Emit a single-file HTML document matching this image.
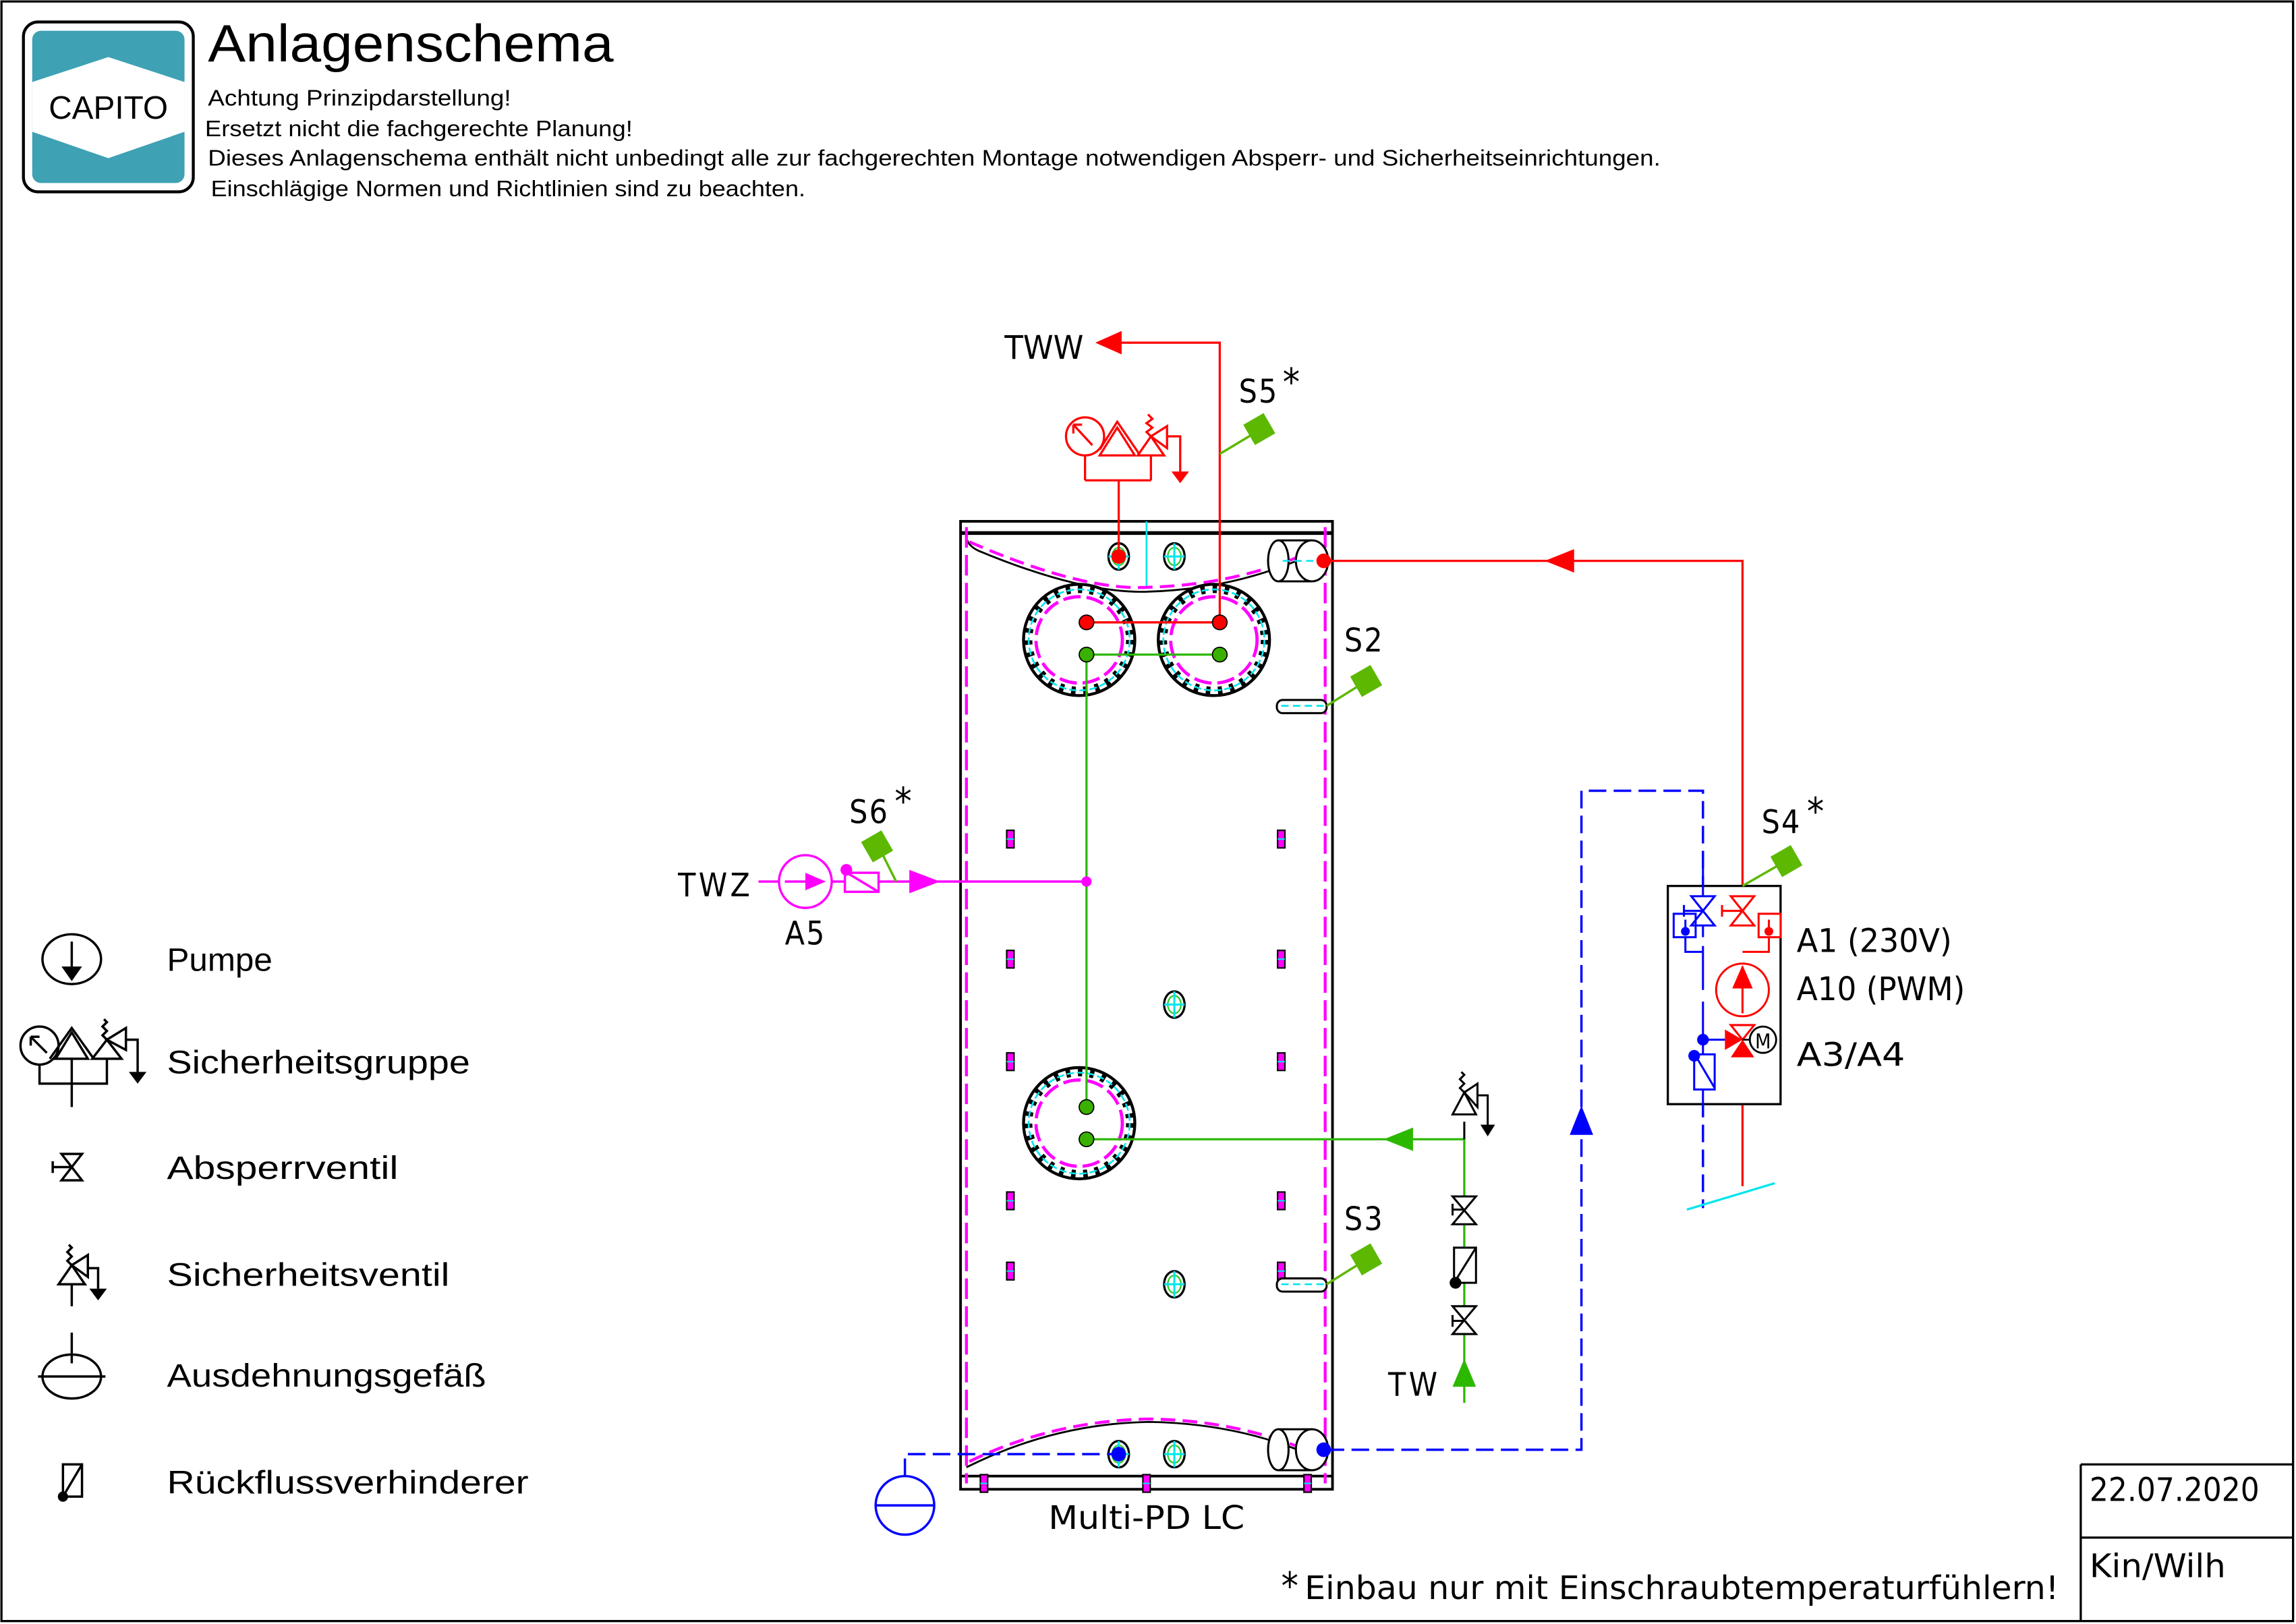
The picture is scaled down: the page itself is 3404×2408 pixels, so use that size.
<!DOCTYPE html>
<html><head><meta charset="utf-8"><style>
html,body{margin:0;padding:0;background:#fff;}
svg{display:block;}
text{font-family:"Liberation Sans",sans-serif;}
.d{font-family:"DejaVu Sans Condensed","Liberation Sans",sans-serif;font-weight:normal;}
</style></head><body>
<svg width="3404" height="2408" viewBox="0 0 1568 1109" preserveAspectRatio="none" xmlns="http://www.w3.org/2000/svg">
<defs>
  <g id="flange">
    <circle r="38" fill="#fff" stroke="#000" stroke-width="2"/>
    <circle r="35" fill="none" stroke="#000" stroke-width="6" stroke-dasharray="3 5.2"/>
    <circle r="34.5" fill="none" stroke="#00e5ee" stroke-width="1.2" stroke-dasharray="5 2"/>
    <circle r="29.5" fill="none" stroke="#ff00ff" stroke-width="2.2" stroke-dasharray="12 4"/>
  </g>
  <g id="sens"><rect x="-8" y="-8" width="16" height="16" fill="#5cb800" transform="rotate(-30)"/></g>
  <g id="nozzle"><ellipse rx="7" ry="9" fill="#fff" stroke="#000" stroke-width="1.5"/><ellipse rx="4.5" ry="6" fill="none" stroke="#2c2" stroke-width="1"/><path d="M-7,0 H7 M0,-9 V9" stroke="#00e5ee" stroke-width="1.4"/></g>
  <g id="mark"><rect x="-2.5" y="-6" width="5" height="12" fill="#ff00ff" stroke="#000" stroke-width="1"/><path d="M-2.5,0 H2.5" stroke="#00e5ee" stroke-width="1"/></g>
</defs>
<rect x="1" y="1" width="1565" height="1106" fill="#fff" stroke="#000" stroke-width="1.5"/>

<!-- logo -->
<rect x="16" y="15" width="116" height="116" rx="10" fill="#fff" stroke="#000" stroke-width="2"/>
<rect x="22" y="21" width="104" height="104" rx="6" fill="#3ea1b4"/>
<polygon points="22,56 74,39 126,56 126,90 74,108 22,90" fill="#fff"/>
<text x="74" y="81" font-size="22" text-anchor="middle">CAPITO</text>

<text x="142" y="42" font-size="36" textLength="277" lengthAdjust="spacingAndGlyphs">Anlagenschema</text>
<text x="142" y="72" font-size="15.5" textLength="207" lengthAdjust="spacingAndGlyphs">Achtung Prinzipdarstellung!</text>
<text x="140" y="93" font-size="15.5" textLength="292" lengthAdjust="spacingAndGlyphs">Ersetzt nicht die fachgerechte Planung!</text>
<text x="142" y="113" font-size="15.5" textLength="992" lengthAdjust="spacingAndGlyphs">Dieses Anlagenschema enthält nicht unbedingt alle zur fachgerechten Montage notwendigen Absperr- und Sicherheitseinrichtungen.</text>
<text x="144" y="134" font-size="15.5" textLength="406" lengthAdjust="spacingAndGlyphs">Einschlägige Normen und Richtlinien sind zu beachten.</text>

<!-- tank -->
<rect x="656" y="356" width="254" height="661" fill="#fff" stroke="#000" stroke-width="1.8"/>
<line x1="656" y1="364" x2="910" y2="364" stroke="#000" stroke-width="2.5"/>
<line x1="656" y1="1008" x2="910" y2="1008" stroke="#000" stroke-width="1.8"/>
<path d="M660,366 Q660,372 668,376 Q740,406 785,404 Q850,402 905,374" fill="none" stroke="#000" stroke-width="1.3"/>
<path d="M662,370 Q740,404 785,401 Q850,399 903,373" fill="none" stroke="#ff00ff" stroke-width="2" stroke-dasharray="10 5"/>
<path d="M660,1002 Q720,972 785,971 Q850,972 905,998" fill="none" stroke="#000" stroke-width="1.3"/>
<path d="M662,998 Q720,970 785,969 Q850,970 903,995" fill="none" stroke="#ff00ff" stroke-width="2" stroke-dasharray="10 5"/>
<line x1="660" y1="360" x2="660" y2="1013" stroke="#ff00ff" stroke-width="2" stroke-dasharray="14 5"/>
<line x1="905" y1="360" x2="905" y2="1013" stroke="#ff00ff" stroke-width="2" stroke-dasharray="14 5"/>
<line x1="783" y1="356" x2="783" y2="400" stroke="#00e5ee" stroke-width="1.2"/>

<g>
<use href="#mark" x="690" y="573"/><use href="#mark" x="875" y="573"/>
<use href="#mark" x="690" y="655"/><use href="#mark" x="875" y="655"/>
<use href="#mark" x="690" y="725"/><use href="#mark" x="875" y="725"/>
<use href="#mark" x="690" y="820"/><use href="#mark" x="875" y="820"/>
<use href="#mark" x="690" y="868"/><use href="#mark" x="875" y="868"/>
<use href="#mark" x="672" y="1013"/><use href="#mark" x="783" y="1013"/><use href="#mark" x="893" y="1013"/>
</g>

<use href="#nozzle" x="764" y="380"/><use href="#nozzle" x="802" y="380"/>
<use href="#nozzle" x="802" y="686"/><use href="#nozzle" x="802" y="877"/>
<use href="#nozzle" x="764" y="993"/><use href="#nozzle" x="802" y="993"/>
<circle cx="764" cy="380" r="5" fill="#f00"/><circle cx="764" cy="993" r="5" fill="#0000ff"/>

<g stroke="#000" stroke-width="1.4" fill="#fff">
<path d="M873,369 H896 M873,397 H896"/>
<ellipse cx="873" cy="383" rx="7" ry="14"/><ellipse cx="896" cy="383" rx="11" ry="14"/>
<path d="M873,976 H896 M873,1004 H896"/>
<ellipse cx="873" cy="990" rx="7" ry="14"/><ellipse cx="896" cy="990" rx="11" ry="14"/>
<rect x="872" y="478" width="34" height="9" rx="4"/>
<rect x="872" y="873" width="34" height="9" rx="4"/>
</g>
<path d="M875,482 H904 M875,877 H904 M876,383 H900" stroke="#00e5ee" stroke-width="1.2" stroke-dasharray="5 3"/>
<circle cx="904" cy="383" r="5" fill="#f00"/><circle cx="904" cy="990" r="5" fill="#0000ff"/>

<use href="#flange" x="737" y="437"/><use href="#flange" x="829" y="437"/><use href="#flange" x="737" y="767"/>

<g stroke="#f00" stroke-width="1.5" fill="none">
<path d="M742,425 H833 V234 H760"/>
<path d="M764,380 V328 M741,328 H786 M741,311 V328 M786,311 V328"/>
<path d="M906,383 H1190 V810"/>
<circle cx="741" cy="298" r="13"/>
<path d="M733,290 L746,304 M733,290 v6 M733,290 h6"/>
<path d="M763,292 L775,311 H751 Z"/>
<path d="M751,307 L763,288 L778,310"/>
<path d="M786,298 L777,311 H795 Z"/>
<path d="M786,298 L797,291 V306 Z M797,298 H806 V322"/>
<path d="M786,298 l-3,-3 l4,-3 l-4,-3 l4,-3 l-3,-3"/>
</g>
<polygon points="748,234 766,226 766,242" fill="#f00"/>
<polygon points="800,322 812,322 806,330" fill="#f00"/>
<polygon points="1055,383 1075,375 1075,391" fill="#f00"/>
<circle cx="742" cy="425" r="5" fill="#f00" stroke="#000" stroke-width="0.8"/>
<circle cx="833" cy="425" r="5" fill="#f00" stroke="#000" stroke-width="0.8"/>
<text x="686" y="245" font-size="22" class="d" textLength="54" lengthAdjust="spacingAndGlyphs">TWW</text>

<g stroke="#2db800" stroke-width="1.5" fill="none">
<path d="M742,447 H833 M742,447 V756"/>
<path d="M742,778 H1000 V958"/>
</g>
<circle cx="742" cy="447" r="5" fill="#3ab000" stroke="#000" stroke-width="0.8"/>
<circle cx="833" cy="447" r="5" fill="#3ab000" stroke="#000" stroke-width="0.8"/>
<circle cx="742" cy="756" r="5" fill="#3ab000" stroke="#000" stroke-width="0.8"/>
<circle cx="742" cy="778" r="5" fill="#3ab000" stroke="#000" stroke-width="0.8"/>
<polygon points="945,778 965,770 965,786" fill="#2db800"/>
<polygon points="1000,928 992,947 1008,947" fill="#2db800"/>
<g stroke="#000" stroke-width="1.4" fill="#fff">
<path d="M1000,766 V778"/>
<path d="M1000,746 L992,761 H1008 Z"/>
<path d="M1000,746 L1009,740 V756 Z M1009,748 H1016 V770" fill="none"/>
<path d="M1000,746 l-3,-3 l3,-3 l-3,-3 l3,-3 l-2,-2" fill="none"/>
<path d="M992,817 H1008 L992,836 H1008 Z M992,826 H1000 M992,822 V830"/>
<path d="M992,892 H1008 L992,911 H1008 Z M992,902 H1000 M992,898 V906"/>
<rect x="993" y="852" width="15" height="24"/>
<path d="M993,876 L1008,852"/>
</g>
<polygon points="1011,768 1021,768 1016,776" fill="#000"/>
<circle cx="994" cy="876" r="4" fill="#000"/>
<text x="948" y="953" font-size="22" class="d" letter-spacing="2">TW</text>

<g stroke="#ff00ff" stroke-width="1.6" fill="none">
<path d="M518,602 H742"/>
<circle cx="550" cy="602" r="18" fill="#fff"/>
<path d="M536,602 H552"/>
<rect x="577" y="596" width="23" height="13" fill="#fff"/>
<path d="M580,597 L600,609"/>
</g>
<polygon points="550,596 564,602 550,608" fill="#ff00ff"/>
<circle cx="578" cy="594" r="4" fill="#ff00ff"/>
<polygon points="621,594 642,602 621,610" fill="#ff00ff"/>
<circle cx="742" cy="602" r="3.5" fill="#ff00ff"/>
<text x="463" y="612" font-size="22" class="d" letter-spacing="2">TWZ</text>
<text x="536" y="645" font-size="22" class="d" letter-spacing="1">A5</text>

<g stroke="#0000ff" stroke-width="1.6" fill="none" stroke-dasharray="12 5">
<path d="M906,990 H1080 V540 H1163 V825"/>
<path d="M618,1008 V993 H760"/>
</g>
<polygon points="1080,755 1072,775 1088,775" fill="#0000ff"/>
<g stroke="#0000ff" stroke-width="1.6" fill="none">
<circle cx="618" cy="1028" r="20"/>
<path d="M598,1028 H638"/>
</g>
<line x1="1152" y1="826" x2="1212" y2="808" stroke="#00e5ee" stroke-width="1.5"/>

<rect x="1139" y="605" width="77" height="149" fill="#fff" stroke="#000" stroke-width="1.5"/>
<g stroke="#0000ff" stroke-width="1.4" fill="none">
<path d="M1163,590 V612 M1163,632 V640 M1163,646 V676 M1163,684 V720"/>
<path d="M1155,612 H1171 L1155,632 H1171 Z"/>
<path d="M1150,618 V626 M1150,622 H1163"/>
<rect x="1143" y="624" width="15" height="16"/>
<path d="M1151,628 V638 M1151,640 V650 H1163"/>
<path d="M1163,710 H1178"/>
<rect x="1157" y="720" width="14" height="24"/>
<path d="M1158,721 L1171,743 M1163,744 V760"/>
</g>
<circle cx="1151" cy="636" r="3" fill="#0000ff"/>
<circle cx="1163" cy="710" r="4" fill="#0000ff"/>
<circle cx="1157" cy="721" r="4" fill="#0000ff"/>
<g stroke="#f00" stroke-width="1.4" fill="#fff">
<path d="M1182,612 H1198 L1182,632 H1198 Z"/>
<path d="M1176,618 V626 M1176,622 H1190" fill="none"/>
<rect x="1201" y="624" width="15" height="16"/>
<path d="M1208,628 V638 M1208,640 V650 H1190" fill="none"/>
<circle cx="1190" cy="676" r="18"/>
<path d="M1182,700 H1198 L1190,710 Z"/>
</g>
<circle cx="1208" cy="636" r="3" fill="#f00"/>
<line x1="1190" y1="660" x2="1190" y2="692" stroke="#f00" stroke-width="1.4"/>
<polygon points="1190,659 1183,675 1197,675" fill="#f00"/>
<polygon points="1178,703 1190,710 1178,717" fill="#f00"/>
<polygon points="1190,710 1182,722 1198,722" fill="#f00"/>
<path d="M1190,710 H1196" stroke="#000" stroke-width="1.2"/>
<circle cx="1204" cy="710" r="9" fill="#fff" stroke="#000" stroke-width="1.3"/>
<text x="1204" y="716" font-size="14" text-anchor="middle" class="d">M</text>
<text x="1227" y="650" font-size="22" class="d" textLength="106" lengthAdjust="spacingAndGlyphs">A1 (230V)</text>
<text x="1227" y="683" font-size="22" class="d" textLength="115" lengthAdjust="spacingAndGlyphs">A10 (PWM)</text>
<text x="1227" y="728" font-size="22" class="d" textLength="74" lengthAdjust="spacingAndGlyphs">A3/A4</text>

<g stroke="#5cb800" stroke-width="1.6">
<line x1="833" y1="310" x2="858" y2="295"/>
<line x1="906" y1="482" x2="930" y2="467"/>
<line x1="906" y1="877" x2="930" y2="862"/>
<line x1="612" y1="602" x2="602" y2="582"/>
<line x1="1190" y1="605" x2="1216" y2="590"/>
</g>
<use href="#sens" x="860" y="293"/><use href="#sens" x="933" y="465"/><use href="#sens" x="933" y="860"/>
<use href="#sens" x="599" y="578"/><use href="#sens" x="1220" y="588"/>
<text x="846" y="275" font-size="22" class="d" letter-spacing="1">S5</text><text x="876" y="270" font-size="26" class="d">*</text>
<text x="918" y="445" font-size="22" class="d" letter-spacing="1">S2</text>
<text x="918" y="840" font-size="22" class="d" letter-spacing="1">S3</text>
<text x="580" y="562" font-size="22" class="d" letter-spacing="1">S6</text><text x="611" y="556" font-size="26" class="d">*</text>
<text x="1203" y="569" font-size="22" class="d" letter-spacing="1">S4</text><text x="1234" y="563" font-size="26" class="d">*</text>

<text x="716" y="1044" font-size="22" class="d" textLength="134" lengthAdjust="spacingAndGlyphs">Multi-PD LC</text>
<text x="875" y="1092" font-size="26" class="d">*</text>
<text x="891" y="1092" font-size="22" class="d" textLength="515" lengthAdjust="spacingAndGlyphs">Einbau nur mit Einschraubtemperaturfühlern!</text>

<path d="M1421,1000 V1107 M1421,1000 H1566 M1421,1050 H1566" stroke="#000" stroke-width="1.5"/>
<text x="1427" y="1025" font-size="22" class="d" textLength="116" lengthAdjust="spacingAndGlyphs">22.07.2020</text>
<text x="1427" y="1077" font-size="22" class="d" textLength="93" lengthAdjust="spacingAndGlyphs">Kin/Wilh</text>

<g stroke="#000" stroke-width="1.6" fill="none">
<ellipse cx="49" cy="655" rx="20" ry="17"/>
<path d="M49,643 V660"/>
<circle cx="27" cy="714" r="13"/>
<path d="M21,708 L32,719 M21,708 v6 M21,708 h6"/>
<path d="M49,705 L60,723 H38 Z M34,723 L49,702 L64,723"/>
<path d="M73,710 L63,723 H83 Z M73,710 L86,702 V717 Z M86,710 H94 V732"/>
<path d="M73,710 l-3,-3 l3,-3 l-3,-3 l3,-3 l-2,-2"/>
<path d="M27,727 V740 H73 V723 M49,723 V756"/>
<path d="M42,788 H56 L42,806 H56 Z M36,793 V801 M36,797 H49"/>
<path d="M49,864 L58,877 H40 Z M49,864 L60,857 V872 Z M60,866 H67 V880"/>
<path d="M49,864 l-3,-3 l3,-3 l-3,-3 l3,-3 l-2,-2"/>
<path d="M49,877 V892"/>
<path d="M49,910 V931"/>
<ellipse cx="49" cy="940" rx="20" ry="15"/>
<path d="M26,940 H72"/>
<rect x="43" y="1000" width="13" height="22"/><path d="M43,1022 L56,1000"/>
</g>
<polygon points="42,660 56,660 49,670" fill="#000"/>
<polygon points="88,732 100,732 94,740" fill="#000"/>
<polygon points="61,880 73,880 67,888" fill="#000"/>
<circle cx="43" cy="1022" r="3.5" fill="#000"/>
<g font-size="22" class="d">
<text x="114" y="663" textLength="72" lengthAdjust="spacingAndGlyphs">Pumpe</text>
<text x="114" y="733" textLength="207" lengthAdjust="spacingAndGlyphs">Sicherheitsgruppe</text>
<text x="114" y="805" textLength="158" lengthAdjust="spacingAndGlyphs">Absperrventil</text>
<text x="114" y="878" textLength="193" lengthAdjust="spacingAndGlyphs">Sicherheitsventil</text>
<text x="114" y="947" textLength="218" lengthAdjust="spacingAndGlyphs">Ausdehnungsgefäß</text>
<text x="114" y="1020" textLength="247" lengthAdjust="spacingAndGlyphs">Rückflussverhinderer</text>
</g>
</svg>
</body></html>
